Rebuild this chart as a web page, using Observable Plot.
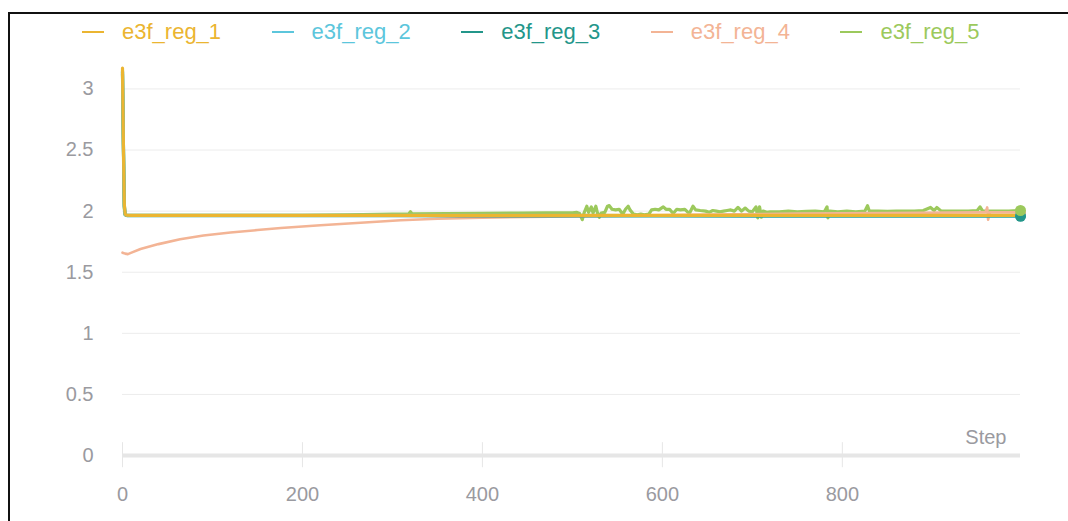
<!DOCTYPE html>
<html><head><meta charset="utf-8">
<script src="https://cdn.jsdelivr.net/npm/d3@7"></script>
<script src="https://cdn.jsdelivr.net/npm/@observablehq/plot@0.6"></script>
<style>
html,body{margin:0;padding:0;background:#fff;overflow:hidden;width:1068px;height:521px;}
body{position:relative;font-family:"Liberation Sans",Arial,sans-serif;}
#frame{position:absolute;left:8px;top:12px;width:1100px;height:560px;border:2.5px solid #111;pointer-events:none;box-sizing:border-box}
#legend{position:absolute;left:0;top:0;height:50px;width:1068px}
.item{position:absolute;top:20px;height:24px;display:flex;align-items:center;font-size:22px;white-space:nowrap}
.sw{width:22px;height:2px;margin-right:18px}
#chart{position:absolute;left:0;top:50px}
</style></head><body>
<div id="legend"></div><div id="chart"></div><div id="frame"></div>
<script>
// ---- data ----
const seriesNames = ["e3f_reg_1", "e3f_reg_2", "e3f_reg_3", "e3f_reg_4", "e3f_reg_5"];
const seriesColors = ["#ebb531", "#5cc6dc", "#23968a", "#f3b495", "#9cc95c"];

const reg1Steps  = [0, 1, 2, 3, 4, 10, 200, 400, 600, 800, 998];
const reg1Values = [3.17, 2.55, 2.06, 1.975, 1.968, 1.966, 1.966, 1.966, 1.966, 1.966, 1.966];

const reg2Steps  = [0, 1, 2, 3, 5, 300, 600, 998];
const reg2Values = [3.15, 2.56, 2.05, 1.972, 1.965, 1.965, 1.964, 1.963];

const reg3Steps  = [0, 1, 2, 3, 5, 300, 600, 998];
const reg3Values = [3.14, 2.55, 2.04, 1.97, 1.963, 1.962, 1.96, 1.958];

const reg4Steps  = [0, 3, 6, 10, 20, 40, 64, 90, 120, 150, 176, 220, 287, 309, 350, 400, 450, 500, 560, 650, 750, 850, 950, 959, 961, 962, 964, 998];
const reg4Values = [1.66, 1.652, 1.648, 1.66, 1.69, 1.73, 1.77, 1.80, 1.825, 1.845, 1.862, 1.885, 1.915, 1.925, 1.938, 1.946, 1.952, 1.957, 1.963, 1.972, 1.98, 1.985, 1.99, 1.99, 2.03, 1.93, 1.99, 1.99];

const reg5Steps  = [0, 1, 2, 3, 5, 100, 200, 250, 300, 318, 320, 322, 360, 400, 440, 470, 500,
  505, 508, 511, 513, 516, 518, 521, 523, 526, 528, 530, 532, 536, 539, 541, 544, 548, 552, 556, 559, 562, 564, 568,
  572, 576, 580, 585, 588, 592, 596, 601, 604, 608, 612, 616, 620, 625, 630, 634, 637, 642, 648, 652, 656, 660, 664,
  668, 672, 676, 680, 684, 688, 692, 696, 700, 704, 706, 708, 710, 712, 716, 720, 730, 740, 750, 760, 770, 780, 783,
  784, 786, 795, 805, 815, 825, 828, 830, 840, 850, 860, 870, 880, 890, 898, 902, 905, 910, 920, 930, 940, 950, 953,
  956, 965, 975, 985, 998];
const reg5Values = [3.12, 2.5, 2.02, 1.97, 1.965, 1.965, 1.966, 1.969, 1.975, 1.977, 1.995, 1.977, 1.979, 1.981, 1.984, 1.985, 1.986,
  1.99, 1.98, 1.93, 1.985, 2.04, 1.99, 2.035, 1.985, 2.04, 1.98, 1.95, 1.985, 1.99, 2.04, 2.045, 2.015, 2.01, 2.015, 1.975, 2.015, 2.04, 2.01, 1.975,
  1.97, 1.975, 1.97, 1.975, 2.01, 2.015, 2.01, 2.035, 2.015, 2.015, 1.98, 2.015, 2.01, 2.015, 1.98, 2.04, 2.01, 2.005, 2.0, 1.99, 2.005, 2.0, 1.995,
  2.0, 2.005, 2.01, 2.0, 2.03, 2.0, 2.025, 2.0, 1.995, 2.035, 1.945, 2.035, 1.95, 2.0, 1.99, 1.995, 1.995, 2.0, 1.995, 1.998, 2.0, 1.995, 2.035,
  1.945, 2.0, 1.995, 2.0, 1.995, 2.0, 2.045, 2.0, 2.0, 1.998, 2.0, 2.0, 2.0, 2.005, 2.03, 2.005, 2.03, 2.0, 2.0, 2.0, 2.0, 2.005, 2.035,
  2.0, 2.0, 2.0, 2.0, 2.005];

const yTicks = [0, 0.5, 1, 1.5, 2, 2.5, 3];
const yGridTicks = [0.5, 1, 1.5, 2, 2.5, 3];
const xTicks = [0, 200, 400, 600, 800];
const xLabel = "Step";

// ---- build tables ----
const allSteps = [reg1Steps, reg2Steps, reg3Steps, reg4Steps, reg5Steps];
const allValues = [reg1Values, reg2Values, reg3Values, reg4Values, reg5Values];
const tables = allSteps.map((s, i) => s.map((step, j) => ({step, value: allValues[i][j], name: seriesNames[i]})));

// ---- legend ----
const legend = document.getElementById("legend");
seriesNames.forEach((n, i) => {
  const it = document.createElement("div");
  it.className = "item";
  it.style.left = (82 + i * 189.6) + "px";
  it.style.color = seriesColors[i];
  const sw = document.createElement("span");
  sw.className = "sw";
  sw.style.background = seriesColors[i];
  it.appendChild(sw);
  it.appendChild(document.createTextNode(n));
  legend.appendChild(it);
});

// ---- chart ----
const lineOrder = [4, 3, 2, 1, 0];
const dotOrder = [0, 1, 3, 2, 4];
const lines = lineOrder.map(i => Plot.line(tables[i], {x: "step", y: "value", stroke: seriesColors[i], strokeWidth: i === 3 ? 2.6 : 3.2, strokeLinejoin: "round"}));
const dots = dotOrder.map(i => Plot.dot(tables[i].slice(-1), {x: "step", y: "value", fill: seriesColors[i], r: 5.5}));

const chart = Plot.plot({
  width: 1068, height: 471,
  marginLeft: 122, marginRight: 48, marginTop: 14, marginBottom: 66,
  x: {domain: [0, 998]},
  y: {domain: [0, 3.2]},
  style: {fontFamily: "'Liberation Sans', Arial, sans-serif", background: "transparent"},
  marks: [
    Plot.gridY(yGridTicks, {stroke: "#ececec", strokeOpacity: 1, strokeWidth: 1}),
    Plot.ruleY([0], {stroke: "#e6e6e6", strokeWidth: 4}),
    Plot.ruleX(xTicks, {y1: -0.1, y2: 0.105, stroke: "#e6e6e6", strokeWidth: 1}),
    Plot.axisY(yTicks, {tickSize: 0, tickPadding: 29, fontSize: 20, fill: "#9a9aa0", label: null, tickFormat: d => String(d)}),
    Plot.axisX(xTicks, {tickSize: 0, tickPadding: 31, fontSize: 20, fill: "#9a9aa0", label: null, tickFormat: d => String(d)}),
    Plot.text([xLabel], {frameAnchor: "bottom-right", dx: -14, dy: -12, lineAnchor: "bottom", textAnchor: "end", fontSize: 20, fill: "#9a9aa0"}),
    ...lines,
    ...dots
  ]
});
document.getElementById("chart").appendChild(chart);
</script></body></html>
